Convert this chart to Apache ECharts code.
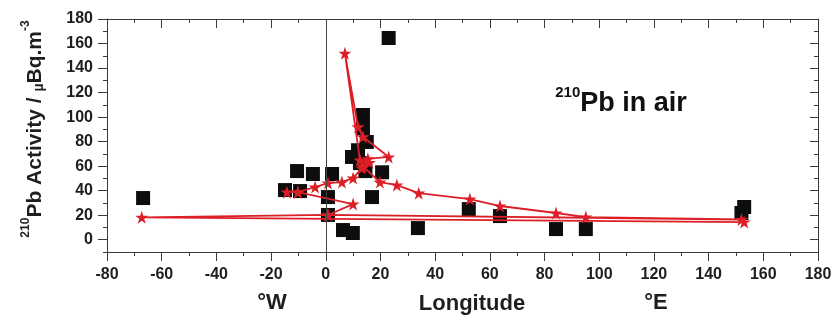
<!DOCTYPE html>
<html>
<head>
<meta charset="utf-8">
<script src="https://cdn.jsdelivr.net/npm/echarts@6/dist/echarts.min.js"></script>
<style>
html,body{margin:0;padding:0;background:#fff;}
#chart{width:838px;height:323px;}
</style>
</head>
<body>
<div id="chart"></div>
<script>
// ---- data ----
const xTicks = [-80, -60, -40, -20, 0, 20, 40, 60, 80, 100, 120, 140, 160, 180];
const yTicks = [0, 20, 40, 60, 80, 100, 120, 140, 160, 180];

// measured activity (black squares)
const measuredLon = [-66.8, -14.9, -9.4, -10.5, -4.7, 2.3, 0.8, 0.8, 6.3, 9.9, 16.9, 23.0, 13.6, 13.6, 15.0, 9.6, 11.8, 12.5, 20.6, 14.5, 33.7, 52.3, 63.7, 84.2, 95.1, 153.0, 152.0];
const measuredAct = [34, 40.5, 39.7, 56, 53.6, 53.6, 34.8, 20.2, 7.9, 5.5, 34.8, 164.5, 101.7, 91, 79.7, 67.5, 73, 62.5, 55, 56, 9.5, 25, 19.3, 8.7, 8.7, 26.7, 21.8];

// modelled activity (red stars, joined in data order; null = break)
const modelLon = [-14.2, -10.2, -3.9, 0.8, 5.9, 10.0, 13.2, 16.0, 12.5, 7.0, 11.8, 13.6, 23.0, 15.4, 13.5, 19.8, 26.0, 34.0, 52.7, 63.7, 84.2, 95.1, 152.0, 0.8, -67.3, 153.0, null, -10.2, 10.0, 0.8];
const modelAct = [38.8, 38.8, 43, 46.2, 47, 50.3, 58.5, 63, 65, 152, 92, 84, 67.5, 66, 60, 47, 44.6, 38, 33.2, 27.5, 21.8, 18.5, 16.5, 20.2, 18.3, 14.4, null, 38.8, 29.1, 20.2];

// ---- build ----
const measured = measuredLon.map((x, i) => [x, measuredAct[i]]);
const model = modelLon.map((x, i) => (x === null ? '-' : [x, modelAct[i]]));

const FONT = '"Liberation Sans", Arial, sans-serif';
const AX = '#3a3a3a';
const TXT = '#1e1e1e';
const RED = '#dc1f27';
const STAR = 'path://M50,0 L61.2,34.5 L97.6,34.5 L68.2,55.9 L79.4,90.5 L50,69.1 L20.6,90.5 L31.8,55.9 L2.4,34.5 L38.8,34.5 Z';

const chart = echarts.init(document.getElementById('chart'), null, {renderer: 'canvas'});

const xBase = {
  type: 'value', min: -80, max: 180, interval: 20,
  splitLine: {show: false},
  axisLine: {show: true, onZero: false, lineStyle: {color: AX, width: 1}}
};
const yBase = {
  type: 'value', min: -10, max: 180,
  splitLine: {show: false}
};

chart.setOption({
  animation: false,
  backgroundColor: '#fff',
  grid: {left: 107, right: 20, top: 19, bottom: 71, outerBoundsMode: 'none'},
  xAxis: [
    Object.assign({}, xBase, {
      position: 'bottom',
      axisTick: {show: true, inside: false, length: 9, lineStyle: {color: AX}},
      minorTick: {show: true, splitNumber: 2, length: 4, lineStyle: {color: AX}},
      axisLabel: {show: true, margin: 15, fontSize: 16, fontWeight: 'bold', fontFamily: FONT, color: TXT}
    }),
    Object.assign({}, xBase, {
      position: 'top',
      axisTick: {show: true, inside: true, length: 9, lineStyle: {color: AX}},
      minorTick: {show: true, splitNumber: 2, length: 4, lineStyle: {color: AX}},
      axisLabel: {show: false}
    })
  ],
  yAxis: [
    Object.assign({}, yBase, {
      position: 'left',
      axisLine: {show: true, onZero: false, lineStyle: {color: AX, width: 1}},
      axisTick: {show: true, inside: false, length: 9, customValues: yTicks, lineStyle: {color: AX}},
      axisLabel: {show: true, customValues: yTicks, margin: 14, fontSize: 16, fontWeight: 'bold', fontFamily: FONT, color: TXT}
    }),
    Object.assign({}, yBase, {
      position: 'left', interval: 10,
      axisLine: {show: false, onZero: false},
      axisTick: {show: true, inside: false, length: 4, lineStyle: {color: AX}},
      axisLabel: {show: false}
    }),
    Object.assign({}, yBase, {
      position: 'right',
      axisLine: {show: true, onZero: false, lineStyle: {color: AX, width: 1}},
      axisTick: {show: true, inside: true, length: 8, customValues: yTicks, lineStyle: {color: AX}},
      axisLabel: {show: false}
    }),
    Object.assign({}, yBase, {
      position: 'right', interval: 10,
      axisLine: {show: false, onZero: false},
      axisTick: {show: true, inside: true, length: 4, lineStyle: {color: AX}},
      axisLabel: {show: false}
    })
  ],
  series: [
    {
      type: 'scatter', name: 'Measured',
      xAxisIndex: 0, yAxisIndex: 0,
      symbol: 'rect', symbolSize: 14,
      itemStyle: {color: '#0d0d0d', opacity: 1},
      data: measured,
      z: 2,
      markLine: {
        silent: true, symbol: 'none', label: {show: false},
        lineStyle: {color: '#444', width: 1, type: 'solid'},
        data: [{xAxis: 0}]
      }
    },
    {
      type: 'line', name: 'Model',
      xAxisIndex: 0, yAxisIndex: 0,
      connectNulls: false,
      symbol: STAR, symbolSize: 13, showAllSymbol: true,
      lineStyle: {color: RED, width: 1.8},
      itemStyle: {color: RED, opacity: 1},
      data: model,
      z: 3
    }
  ],
  graphic: [
    {
      type: 'text', x: 33, y: 129, rotation: Math.PI / 2,
      style: {
        text: '{s|210}{m|Pb Activity / }{u|\u00b5}{m|Bq.m}{s|-3}',
        align: 'center', verticalAlign: 'middle',
        rich: {
          m: {fontSize: 21, fontWeight: 'bold', fontFamily: FONT, fill: TXT, lineHeight: 26, verticalAlign: 'bottom'},
          u: {fontSize: 14, fontWeight: 'bold', fontFamily: FONT, fill: TXT, lineHeight: 22, verticalAlign: 'bottom'},
          s: {fontSize: 12, fontWeight: 'bold', fontFamily: FONT, fill: TXT, lineHeight: 14, verticalAlign: 'top'}
        }
      }
    },
    {
      type: 'text', x: 621, y: 101,
      style: {
        text: '{s|210}{m|Pb in air}',
        align: 'center', verticalAlign: 'middle',
        rich: {
          m: {fontSize: 27, fontWeight: 'bold', fontFamily: FONT, fill: '#111', lineHeight: 32, verticalAlign: 'bottom'},
          s: {fontSize: 15, fontWeight: 'bold', fontFamily: FONT, fill: '#111', lineHeight: 16, verticalAlign: 'top'}
        }
      }
    },
    {
      type: 'text', x: 272, y: 303,
      style: {text: '\u00b0W', align: 'center', verticalAlign: 'middle', fontSize: 22, fontWeight: 'bold', fontFamily: FONT, fill: TXT}
    },
    {
      type: 'text', x: 472, y: 304,
      style: {text: 'Longitude', align: 'center', verticalAlign: 'middle', fontSize: 22, fontWeight: 'bold', fontFamily: FONT, fill: TXT}
    },
    {
      type: 'text', x: 656, y: 303,
      style: {text: '\u00b0E', align: 'center', verticalAlign: 'middle', fontSize: 22, fontWeight: 'bold', fontFamily: FONT, fill: TXT}
    }
  ]
});
</script>
</body>
</html>
